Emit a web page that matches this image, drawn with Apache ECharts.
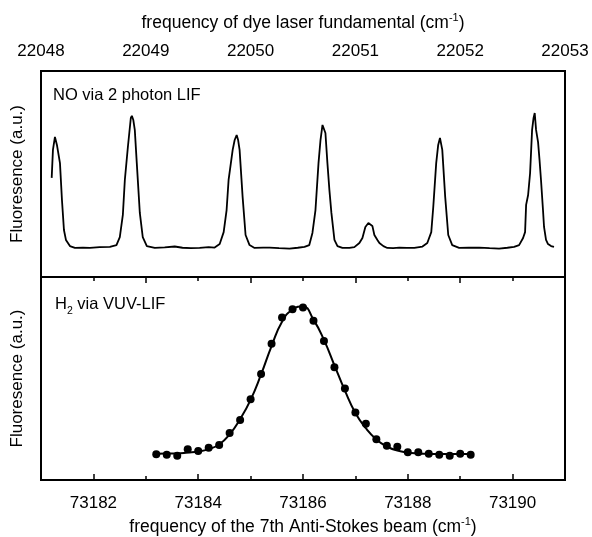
<!DOCTYPE html>
<html><head><meta charset="utf-8">
<script src="https://cdn.jsdelivr.net/npm/echarts@6/dist/echarts.min.js"></script>
<style>html,body{margin:0;padding:0;background:#fff}#c{width:592px;height:537px}</style>
</head><body><div id="c"></div>
<script>
// Top panel: NO via 2 photon LIF (x: dye laser fundamental, cm^-1)
const dyeFreq = [
22048.102,22048.114,22048.133,22048.152,22048.181,22048.200,22048.219,22048.238,22048.276,22048.324,
22048.400,22048.467,22048.560,22048.657,22048.720,22048.752,22048.781,22048.800,22048.829,22048.857,
22048.867,22048.881,22048.895,22048.914,22048.943,22048.971,22049.010,22049.086,22049.180,22049.276,
22049.350,22049.430,22049.514,22049.600,22049.657,22049.705,22049.743,22049.771,22049.790,22049.829,
22049.848,22049.867,22049.881,22049.895,22049.924,22049.952,22049.990,22050.038,22050.120,22050.181,
22050.271,22050.371,22050.450,22050.514,22050.560,22050.590,22050.619,22050.648,22050.667,22050.686,
22050.695,22050.714,22050.733,22050.752,22050.771,22050.800,22050.829,22050.876,22050.943,22050.990,
22051.038,22051.067,22051.095,22051.124,22051.143,22051.162,22051.181,22051.210,22051.229,22051.267,
22051.305,22051.360,22051.419,22051.490,22051.562,22051.640,22051.686,22051.724,22051.743,22051.771,
22051.790,22051.807,22051.829,22051.857,22051.886,22051.924,22051.990,22052.080,22052.181,22052.280,
22052.371,22052.450,22052.514,22052.562,22052.600,22052.619,22052.629,22052.648,22052.667,22052.686,
22052.700,22052.711,22052.724,22052.743,22052.757,22052.771,22052.790,22052.800,22052.819,22052.838,
22052.867,22052.895];
const noSignal = [
48.1,61.7,68.0,64.1,55.3,37.4,22.8,18.0,15.0,14.1,
14.3,14.1,14.5,14.6,15.5,19.4,30.1,47.1,63.1,77.2,
78.2,76.2,71.4,55.3,31.1,19.4,15.0,14.1,14.4,14.8,
14.2,14.0,14.1,14.5,14.3,16.0,21.8,32.5,47.1,61.7,
66.5,68.9,66.5,61.7,38.8,20.4,15.5,14.1,14.3,14.3,
14.0,13.8,14.2,14.6,15.5,21.4,32.5,55.3,66.5,73.8,
74.3,69.9,55.3,42.2,31.1,18.0,15.0,14.1,14.1,14.5,
16.5,18.9,24.3,26.2,26.7,24.8,20.4,18.0,16.5,15.0,
14.1,14.0,14.3,14.1,14.1,14.8,16.5,21.8,34.0,55.3,
64.1,67.5,61.7,38.8,20.4,15.5,14.1,14.2,14.3,14.0,
13.8,14.2,14.6,15.5,18.9,21.8,35.0,39.8,50.5,71.4,
77.2,79.6,71.4,65.5,56.8,47.1,32.5,24.3,18.0,16.0,
15.0,14.6];

// Bottom panel: H2 via VUV-LIF (x: 7th Anti-Stokes beam, cm^-1)
const asFreq = [73183.2,73183.4,73183.6,73183.8,73184.0,73184.2,73184.4,73184.6,73184.8,73185.0,
73185.2,73185.4,73185.6,73185.8,73186.0,73186.2,73186.4,73186.6,73186.8,73187.0,
73187.2,73187.4,73187.6,73187.8,73188.0,73188.2,73188.4,73188.6,73188.8,73189.0,73189.2];
const h2Signal = [12.7,12.4,11.9,15.1,14.3,15.9,17.2,23.2,29.6,39.8,
52.2,67.1,80.0,84.1,85.0,78.4,68.5,55.6,45.1,33.3,
27.7,20.1,16.9,16.4,13.7,13.7,12.9,12.4,11.9,12.9,12.4];
const h2Fit = [12.9,13.0,13.1,13.5,14.0,15.2,17.5,22.5,30.0,39.5,
52.0,66.0,78.0,84.0,85.5,79.0,69.0,56.5,44.0,33.0,
25.5,20.0,16.5,14.5,13.5,13.1,12.9,12.8,12.8,12.8,12.8];

// Tick values
const topTickMin = 22048, topTickMax = 22053;
const bottomMajor = [73182,73184,73186,73188,73190];
const bottomMinor = [73181,73183,73185,73187,73189,73191];

const FONT = 'Liberation Sans';
const pairs = (xs, ys) => xs.map((x, i) => [x, ys[i]]);
const plain = v => String(v);
const supRich = {
  t: {fontSize: 17.5, fontFamily: FONT, color: '#000', lineHeight: 22},
  s: {fontSize: 11, fontFamily: FONT, color: '#000', verticalAlign: 'top', lineHeight: 22}
};
const hidden = {show: false};

const chart = echarts.init(document.getElementById('c'));
chart.setOption({
  animation: false,
  backgroundColor: '#fff',
  grid: [
    {left: 41, right: 27, top: 71, height: 206, show: true, borderColor: '#000', borderWidth: 2, backgroundColor: 'transparent'},
    {left: 41, right: 27, top: 277, height: 207, show: true, borderColor: '#000', borderWidth: 2, backgroundColor: 'transparent'}
  ],
  xAxis: [
    {gridIndex: 0, type: 'value', position: 'top', min: topTickMin, max: topTickMax, interval: 1,
     axisLine: hidden, splitLine: hidden, minorSplitLine: hidden,
     axisTick: {inside: true, length: 6, lineStyle: {color: '#000', width: 1.5}},
     minorTick: {show: true, splitNumber: 2, length: 4, lineStyle: {color: '#000', width: 1.5}},
     axisLabel: {fontSize: 17, fontFamily: FONT, color: '#000', margin: 11, formatter: plain},
     name: '{t|frequency of dye laser fundamental (cm}{s|-1}{t|)}', nameLocation: 'middle', nameGap: 37,
     nameTextStyle: {rich: supRich}},
    {gridIndex: 1, type: 'value', position: 'bottom', min: 73181, max: 73191,
     axisLine: hidden, splitLine: hidden,
     axisTick: {inside: true, length: 6, customValues: bottomMajor, lineStyle: {color: '#000', width: 1.5}},
     axisLabel: {fontSize: 17, fontFamily: FONT, color: '#000', margin: 15, customValues: bottomMajor, formatter: plain},
     name: '{t|frequency of the 7th Anti-Stokes beam (cm}{s|-1}{t|)}', nameLocation: 'middle', nameGap: 36,
     nameTextStyle: {rich: supRich}},
    {gridIndex: 1, type: 'value', position: 'bottom', min: 73181, max: 73191,
     axisLine: hidden, splitLine: hidden,
     axisLabel: {show: true, customValues: bottomMinor, formatter: () => ''},
     axisTick: {show: true, inside: true, length: 4, customValues: bottomMinor, lineStyle: {color: '#000', width: 1.5}}}
  ],
  yAxis: [
    {gridIndex: 0, type: 'value', min: 0, max: 100, axisLine: hidden, axisTick: hidden, axisLabel: hidden, splitLine: hidden,
     name: 'Fluoresence (a.u.)', nameLocation: 'middle', nameGap: 15,
     nameTextStyle: {fontSize: 17, fontFamily: FONT, color: '#000'}},
    {gridIndex: 1, type: 'value', min: 0, max: 100, axisLine: hidden, axisTick: hidden, axisLabel: hidden, splitLine: hidden,
     name: 'Fluoresence (a.u.)', nameLocation: 'middle', nameGap: 15,
     nameTextStyle: {fontSize: 17, fontFamily: FONT, color: '#000'}}
  ],
  graphic: [
    {type: 'text', left: 53, top: 87, style: {text: 'NO via 2 photon LIF', font: '16.5px "Liberation Sans"', fill: '#000'}},
    {type: 'text', left: 55, top: 296, style: {
      text: '{a|H}{b|2}{a| via VUV-LIF}',
      rich: {a: {fontSize: 16.5, fontFamily: FONT, color: '#000', lineHeight: 20},
             b: {fontSize: 10.5, fontFamily: FONT, color: '#000', verticalAlign: 'bottom', lineHeight: 24}}}}
  ],
  series: [
    {type: 'line', xAxisIndex: 0, yAxisIndex: 0, data: pairs(dyeFreq, noSignal), showSymbol: false, symbol: 'none',
     lineStyle: {color: '#000', width: 1.8}},
    {type: 'line', xAxisIndex: 1, yAxisIndex: 1, data: pairs(asFreq, h2Fit), showSymbol: false, symbol: 'none', smooth: true,
     lineStyle: {color: '#000', width: 2}},
    {type: 'scatter', xAxisIndex: 1, yAxisIndex: 1, data: pairs(asFreq, h2Signal), symbolSize: 8,
     itemStyle: {color: '#000', opacity: 1}}
  ]
});
</script>
</body></html>
